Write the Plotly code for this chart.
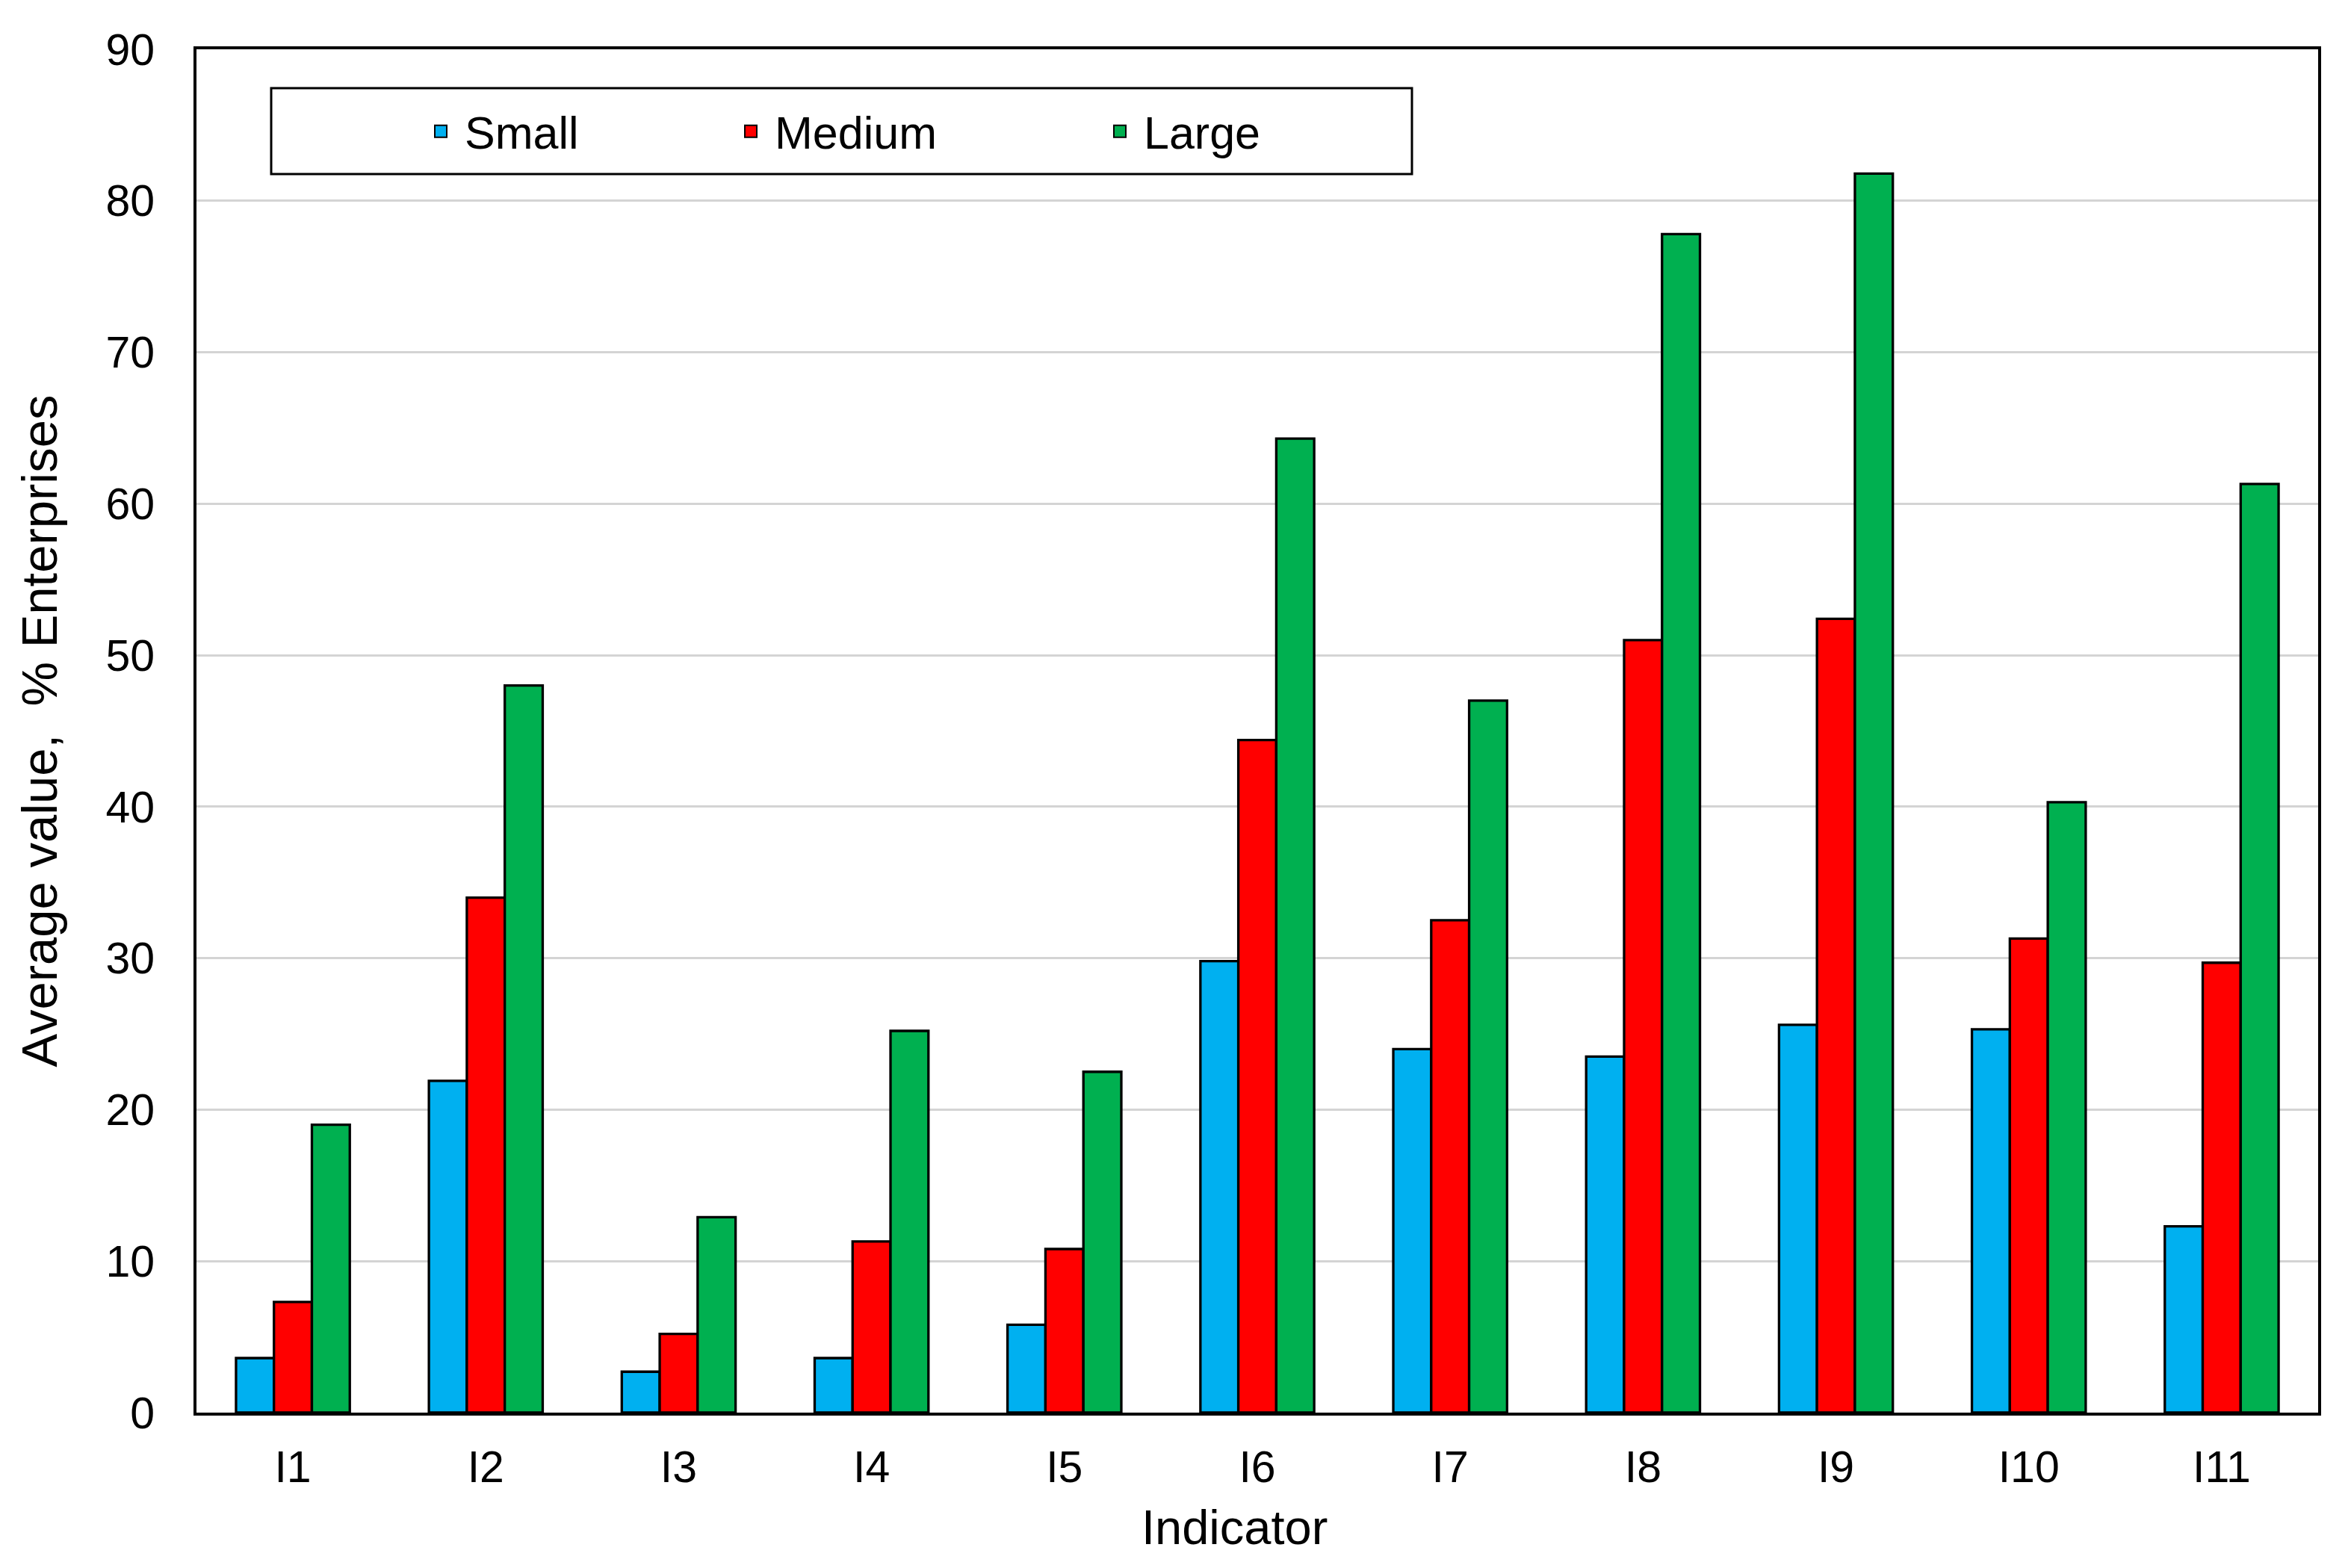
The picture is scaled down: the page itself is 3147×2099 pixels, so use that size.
import plotly.graph_objects as go

categories = ["I1", "I2", "I3", "I4", "I5", "I6", "I7", "I8", "I9", "I10", "I11"]
small = [3.6, 21.9, 2.7, 3.6, 5.8, 29.8, 24.0, 23.5, 25.6, 25.3, 12.3]
medium = [7.3, 34.0, 5.2, 11.3, 10.8, 44.4, 32.5, 51.0, 52.4, 31.3, 29.7]
large = [19.0, 48.0, 12.9, 25.2, 22.5, 64.3, 47.0, 77.8, 81.8, 40.3, 61.3]
series_names = ["Small", "Medium", "Large"]
series_colors = ["#00B0F0", "#FF0000", "#00B050"]
y_ticks = [0, 10, 20, 30, 40, 50, 60, 70, 80, 90]

FONT = "Liberation Sans"
W, H = 3147, 2099
OFF = 8  # page body margin
L, R, T, B = 255, 52, 58, 216
pw = W - L - R
ph = H - T - B


def px_x(x_page):
    return (x_page - OFF - L) / pw


def px_y(y_page):
    return (H - B - (y_page - OFF)) / ph


legend_ids = ["legend", "legend2", "legend3"]
legend_page_x = [558, 973, 1467]

fig = go.Figure()
for name, vals, col, lid in zip(series_names, [small, medium, large], series_colors, legend_ids):
    fig.add_trace(go.Bar(
        x=categories, y=vals, name=name, showlegend=False,
        marker=dict(color=col, line=dict(color="black", width=3.3)),
    ))
    fig.add_trace(go.Scatter(
        x=[None], y=[None], mode="markers", name=name, legend=lid,
        marker=dict(symbol="square", size=16, color=col,
                    line=dict(color="black", width=2)),
    ))

fig.add_shape(type="rect", xref="paper", yref="paper",
              x0=px_x(363), x1=px_x(1890), y0=px_y(233), y1=px_y(118),
              line=dict(color="black", width=3), fillcolor="white", layer="above")

legend_common = dict(
    orientation="h", yanchor="middle", xanchor="left",
    bgcolor="rgba(0,0,0,0)", borderwidth=0, itemwidth=54,
    font=dict(family=FONT, size=61, color="black"),
)
layout_legends = {}
for lid, lx in zip(legend_ids, legend_page_x):
    layout_legends[lid] = dict(legend_common, x=px_x(lx), y=px_y(176))

fig.add_annotation(
    text="Indicator", xref="paper", yref="paper",
    x=px_x(1652), y=px_y(2045), xanchor="center", yanchor="middle",
    showarrow=False, font=dict(family=FONT, size=65, color="black"),
)

fig.update_layout(
    width=W, height=H,
    margin=dict(l=L, r=R, t=T, b=B, autoexpand=False),
    paper_bgcolor="white", plot_bgcolor="white",
    barmode="group", bargap=0.41, bargroupgap=0,
    font=dict(family=FONT, size=58, color="black"),
    xaxis=dict(
        range=[-0.5, 10.5], showline=True, mirror=True, linecolor="black", linewidth=4,
        showgrid=False, ticks="", ticklabelstandoff=18,
        tickfont=dict(family=FONT, size=59),
    ),
    yaxis=dict(
        range=[0, 90], tickvals=y_ticks, showline=True, mirror=True, linecolor="black",
        linewidth=4, showgrid=True, gridcolor="#d4d4d4", gridwidth=3, zeroline=False,
        ticks="", ticklabelstandoff=40,
        tickfont=dict(family=FONT, size=59),
        title=dict(text="Average value,  % Enterprises", font=dict(family=FONT, size=67), standoff=44),
    ),
    **layout_legends,
)

fig.write_html("out.html")
